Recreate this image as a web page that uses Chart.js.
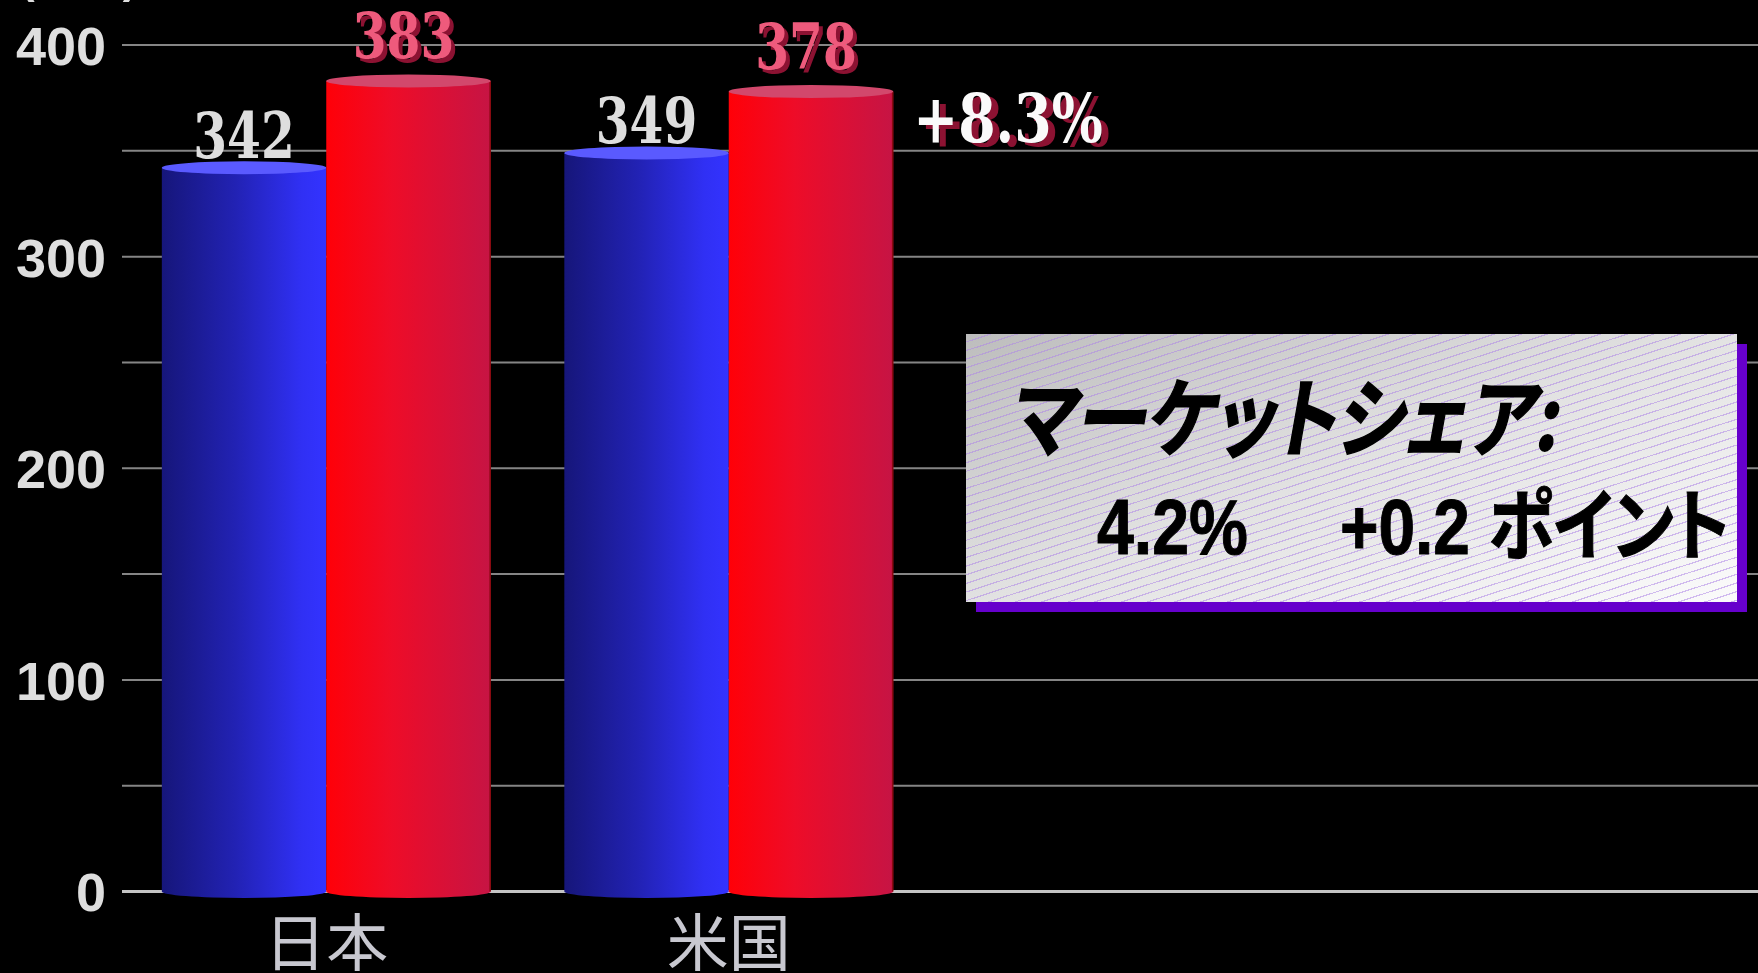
<!DOCTYPE html>
<html>
<head>
<meta charset="utf-8">
<script src="https://cdn.jsdelivr.net/npm/chart.js@4"></script>
<style>
	html, body { margin: 0; padding: 0; background: #000; }
	.wrap { position: relative; width: 1758px; height: 973px; overflow: hidden; }
	#chart { position: absolute; left: 0; top: 0; }
	.share-box {
		position: absolute; left: 966px; top: 334px; width: 771px; height: 268px;
		background:
			repeating-linear-gradient(162deg, rgba(0,0,0,0) 0 7px, rgba(175,135,230,0.55) 7px 8.2px),
			linear-gradient(160deg, #bdbdbd 0%, #e2e2e2 50%, #fbfbfb 100%);
		box-shadow: 10px 10px 0 #6600cc;
		color: #000;
	}
	.share-box .title {
		position: absolute; left: 41px; top: 36px;
		font: bold 86px "Noto Sans CJK JP";
		line-height: 1;
		white-space: nowrap;
		font-feature-settings: "palt";
		transform-origin: left bottom;
		transform: skewX(-10deg) scaleX(0.84);
		-webkit-text-stroke: 1.5px #000;
	}
	.share-box .val {
		position: absolute;
		line-height: 1; white-space: nowrap;
		transform-origin: left bottom;
	}
	.share-box .num { font: bold 77px "Liberation Sans"; -webkit-text-stroke: 1px #000; }
	.share-box .jp { font: bold 78px "Noto Sans CJK JP"; font-feature-settings: "palt"; -webkit-text-stroke: 1px #000; }
</style>
</head>
<body>
<div class="wrap">
	<canvas id="chart" width="1758" height="973"></canvas>
	<div class="share-box">
		<div class="title">マーケットシェア:</div>
		<div class="val" style="left:131px; top:149px; transform: scaleX(0.86);"><span class="num">4.2%</span></div>
		<div class="val" style="left:374px; top:130px; transform: scaleX(0.855);"><span class="num">+0.2 </span><span class="jp">ポイント</span></div>
	</div>
</div>
<script>
const categories = ["日本", "米国"];
const prevValues = [342, 349];
const currValues = [383, 378];
const yMax = 400;
const yLabelStep = 100;
const gridStep = 50;
const unitLabel = "(万台)";
const growthLabel = "+8.3%";

const serif = "'DejaVu Serif'";

function drawSquashed(ctx, text, x, y, sx, align) {
	ctx.save();
	ctx.translate(x, y);
	ctx.scale(sx, 1);
	ctx.textAlign = align;
	ctx.fillText(text, 0, 0);
	ctx.restore();
}

const cylinders = {
	id: "cylinders",
	beforeDatasetsDraw(chart) {
		const ctx = chart.ctx;
		const yScale = chart.scales.y;
		ctx.save();
		for (let v = 0; v <= yMax; v += gridStep) {
			const y = yScale.getPixelForValue(v);
			ctx.beginPath();
			ctx.strokeStyle = v === 0 ? "#c4c4c4" : "#858585";
			ctx.lineWidth = v === 0 ? 3 : 2;
			ctx.moveTo(yScale.right - 3, y);
			ctx.lineTo(chart.width, y);
			ctx.stroke();
		}
		ctx.restore();
	},
	afterDatasetsDraw(chart) {
		const ctx = chart.ctx;
		const ry = 6.5;
		chart.data.datasets.forEach((ds, i) => {
			const meta = chart.getDatasetMeta(i);
			meta.data.forEach(bar => {
				const { x, y, base, width } = bar.getProps(["x", "y", "base", "width"], true);
				const left = x - width / 2;
				const right = x + width / 2;
				const grad = ctx.createLinearGradient(left, 0, right, 0);
				ds.sideStops.forEach(s => grad.addColorStop(s[0], s[1]));
				ctx.save();
				ctx.beginPath();
				ctx.moveTo(left, y);
				ctx.lineTo(left, base);
				ctx.ellipse(x, base, width / 2, ry, 0, Math.PI, 0, true);
				ctx.lineTo(right, y);
				ctx.closePath();
				ctx.fillStyle = grad;
				ctx.fill();
				if (ds.edgeColor) {
					ctx.beginPath();
					ctx.strokeStyle = ds.edgeColor;
					ctx.lineWidth = 1.5;
					ctx.moveTo(right - 0.5, y);
					ctx.lineTo(right - 0.5, base);
					ctx.stroke();
				}
				ctx.beginPath();
				ctx.ellipse(x, y, width / 2, ry, 0, 0, Math.PI * 2);
				ctx.fillStyle = ds.topColor;
				ctx.fill();
				ctx.restore();
			});
		});
	},
	afterDraw(chart) {
		const ctx = chart.ctx;
		ctx.save();
		ctx.textBaseline = "alphabetic";
		ctx.font = "bold 64px " + serif;
		chart.data.datasets.forEach((ds, i) => {
			const meta = chart.getDatasetMeta(i);
			meta.data.forEach((bar, j) => {
				const text = String(ds.data[j]);
				const bx = bar.x + ds.labelShift;
				const by = bar.y - ds.labelGap;
				if (ds.labelShadow) {
					ctx.fillStyle = ds.labelShadow;
					drawSquashed(ctx, text, bx + 4, by + 4, 0.76, "center");
				}
				ctx.fillStyle = ds.labelColor;
				drawSquashed(ctx, text, bx, by, 0.76, "center");
			});
		});
		// growth note next to the last bar
		const meta = chart.getDatasetMeta(1);
		const last = meta.data[meta.data.length - 1];
		const gx = last.x + last.width / 2 + 20;
		const gy = chart.scales.y.getPixelForValue(350) - 9;
		ctx.font = "bold 68px " + serif;
		ctx.fillStyle = "#8c1232";
		drawSquashed(ctx, growthLabel, gx + 7, gy + 4, 0.79, "left");
		ctx.fillStyle = "#fafafa";
		drawSquashed(ctx, growthLabel, gx, gy, 0.79, "left");
		// unit label, mostly cut off at the top
		ctx.font = "bold 44px 'Liberation Sans'";
		ctx.fillStyle = "#dedede";
		ctx.textAlign = "left";
		ctx.fillText(unitLabel, 20, -7);
		ctx.restore();
	}
};

new Chart(document.getElementById("chart"), {
	type: "bar",
	data: {
		labels: categories,
		datasets: [
			{
				data: prevValues,
				backgroundColor: "rgba(0,0,0,0)",
				sideStops: [[0, "#16167a"], [0.45, "#2222b4"], [0.85, "#3030f4"], [1, "#3333ff"]],
				topColor: "#5a5aff",
				labelColor: "#dedede",
				labelShadow: null,
				labelGap: 10,
				labelShift: 0
			},
			{
				data: currValues,
				backgroundColor: "rgba(0,0,0,0)",
				sideStops: [[0, "#ff0008"], [0.4, "#ee0c28"], [1, "#c61444"]],
				topColor: "#d2486c",
				edgeColor: "#8a0a10",
				labelColor: "#ee5a7c",
				labelShadow: "#8c1232",
				labelGap: 23,
				labelShift: -5
			}
		]
	},
	options: {
		responsive: false,
		animation: false,
		events: [],
		layout: { padding: { top: 45, left: 0, right: 828, bottom: 0 } },
		datasets: { bar: { categoryPercentage: 0.817, barPercentage: 1.0 } },
		plugins: { legend: { display: false }, tooltip: { enabled: false } },
		scales: {
			x: {
				grid: { display: false, drawTicks: false },
				border: { display: false },
				ticks: {
					color: "#c8c8d0",
					font: { family: "'Noto Sans CJK JP'", size: 62 },
					padding: 14
				},
				afterFit: s => { s.height = 81.5; }
			},
			y: {
				min: 0,
				max: yMax,
				grid: { display: false, drawTicks: false },
				border: { display: false },
				ticks: {
					stepSize: yLabelStep,
					color: "#dedede",
					font: { family: "'Liberation Sans'", size: 54, weight: "bold" },
					padding: 19,
					labelOffset: 5
				},
				afterFit: s => {
					s.width = 125;
					s.paddingTop = 0;
					s.paddingBottom = 0;
				}
			}
		}
	},
	plugins: [cylinders]
});
</script>
</body>
</html>
